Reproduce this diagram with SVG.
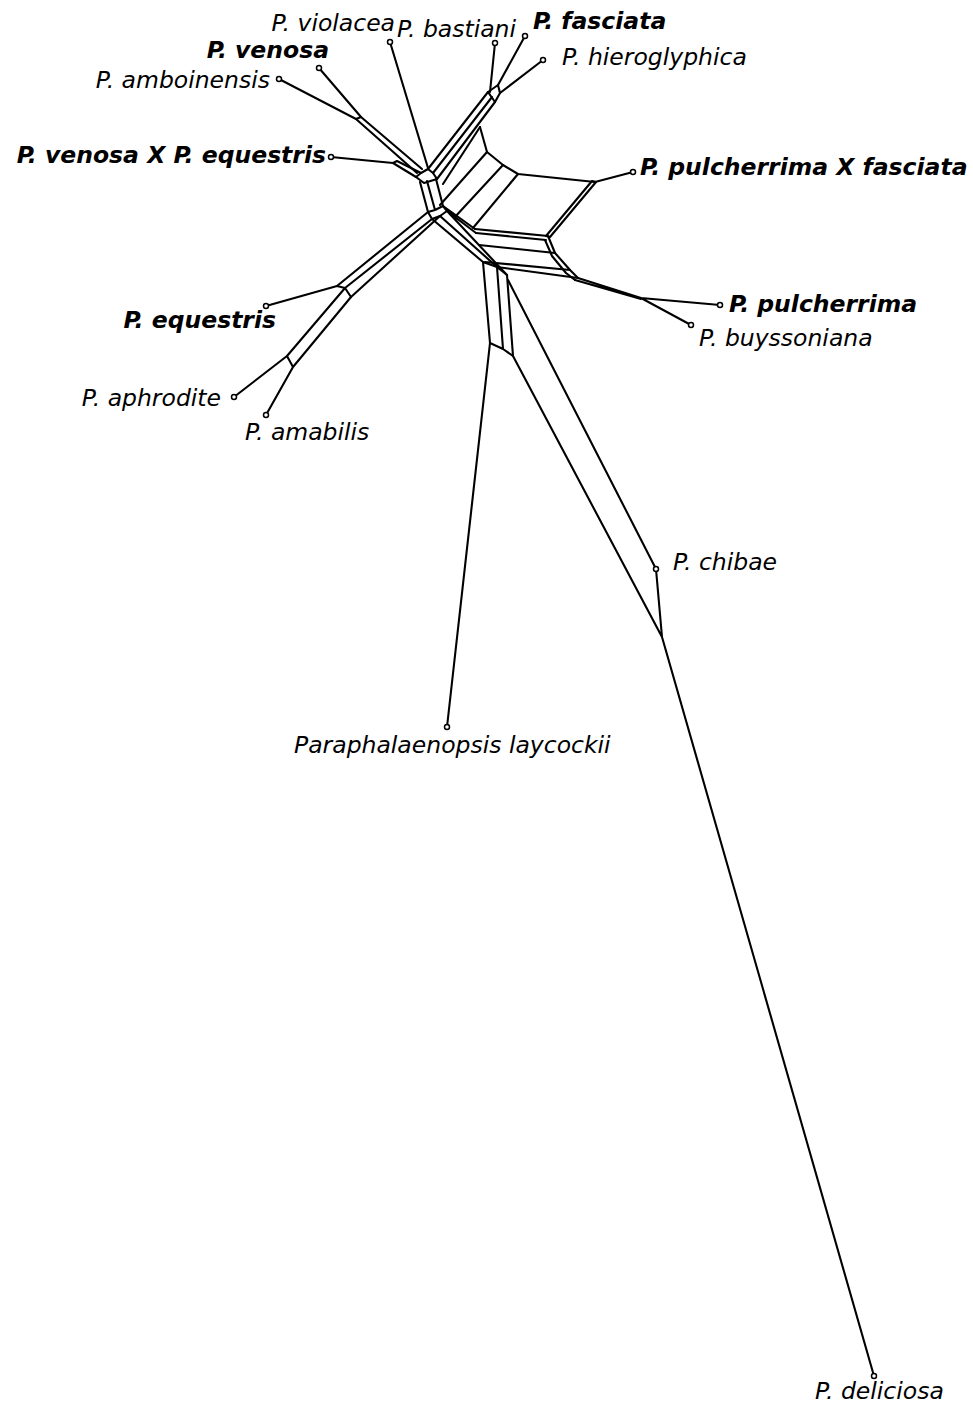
<svg xmlns="http://www.w3.org/2000/svg" width="973" height="1405" viewBox="0 0 973 1405">
<style>
.e{stroke:#000;stroke-width:2.1;fill:none;stroke-linecap:round;stroke-linejoin:round}
.d{fill:#fff;stroke:#000;stroke-width:1.5}
text{font-family:"DejaVu Sans","Liberation Sans",sans-serif;font-size:23.5px;font-style:italic;fill:#000}
.b{font-weight:bold}
</style>
<rect width="973" height="1405" fill="#fff"/>
<g id="connectors" class="e">
<path d="M390,42 L428,168"/>
<path d="M319,68 L361,117 M279,79 L356,119 M356,119 L361,117"/>
<path d="M356,119 L417,173 M361,117 L422,169"/>
<path d="M331,157 L393,163 M393,163 L416,177 M397,161 L421,173 M393,163 L397,161"/>
<path d="M416,177 L421,173 L428,169 L433,173 L437,179 L424,183 Z"/>
<path d="M420,182 L428,212 M427,181 L435,210 M436,179 L443,206 M428,212 L435,210 L443,206"/>
<path d="M428,212 L432,219 L440,216 L447,211 L443,206"/>
<path d="M428,169 L488,92 M433,173 L492,97 M437,179 L495,102 M443,184 L480,127"/>
<path d="M488,92 L498,85 L500,93 L495,102 L488,92"/>
<path d="M495,43 L490,92 M525,36 L498,85 M543,60 L500,93"/>
<path d="M480,127 L487,152 L503,165 L518,174 L595,182 L633,172"/>
<path d="M596,182 L550,237 M592,181 L546,236 M596,182 L592,181 M550,237 L546,236"/>
<path d="M440,205 L487,152 M454,218 L503,165 M473,228 L518,174"/>
<path d="M475,229 L548,236 M476,233 L546,240 M479,245 L555,253 M485,262 L570,270 M497,267 L578,278"/>
<path d="M548,236 L555,253 L570,270 L578,278 M545,240 L552,256 L566,273 L575,280"/>
<path d="M578,278 L641,298 M575,280 L641,299 M641,298 L720,305 M641,298 L691,325"/>
<path d="M432,219 L483,262 M440,216 L497,267 M447,211 L507,275 M443,206 L475,229 M447,211 L476,233"/>
<path d="M483,262 L490,343 M497,267 L503,349 M507,275 L513,356 M490,343 L503,349 L513,356 M483,262 L497,267 L507,275"/>
<path d="M508,280 L656,569 M513,356 L662,637 M656,569 L662,637 L874,1376 M490,343 L447,727"/>
<path d="M428,212 L337,286 M432,219 L345,288 M440,216 L351,297"/>
<path d="M266,306 L337,286 L345,288 L351,297"/>
<path d="M345,288 L287,356 M351,297 L293,367 M287,356 L293,367 M234,397 L287,356 M266,415 L293,367"/>
</g>
<g id="n-violacea"><circle class="d" cx="390" cy="42" r="2.5"/><text x="395" y="31" text-anchor="end">P. violacea</text></g>
<g id="n-bastiani"><circle class="d" cx="495" cy="43" r="2.5"/><text x="397" y="37">P. bastiani</text></g>
<g id="n-fasciata"><circle class="d" cx="525" cy="36" r="2.5"/><text class="b" x="533" y="29">P. fasciata</text></g>
<g id="n-hieroglyphica"><circle class="d" cx="543" cy="60" r="2.5"/><text x="562" y="65">P. hieroglyphica</text></g>
<g id="n-venosa"><circle class="d" cx="319" cy="68" r="2.5"/><text class="b" x="329" y="58" text-anchor="end">P. venosa</text></g>
<g id="n-amboinensis"><circle class="d" cx="279" cy="79" r="2.5"/><text x="270" y="88" text-anchor="end">P. amboinensis</text></g>
<g id="n-venosa-x-equestris"><circle class="d" cx="331" cy="157" r="2.5"/><text class="b" x="326" y="163" text-anchor="end">P. venosa X P. equestris</text></g>
<g id="n-pulcherrima-x-fasciata"><circle class="d" cx="633" cy="172" r="2.5"/><text class="b" x="640" y="175">P. pulcherrima X fasciata</text></g>
<g id="n-pulcherrima"><circle class="d" cx="720" cy="305" r="2.5"/><text class="b" x="729" y="312">P. pulcherrima</text></g>
<g id="n-buyssoniana"><circle class="d" cx="691" cy="325" r="2.5"/><text x="699" y="346">P. buyssoniana</text></g>
<g id="n-equestris"><circle class="d" cx="266" cy="306" r="2.5"/><text class="b" x="276" y="328" text-anchor="end">P. equestris</text></g>
<g id="n-aphrodite"><circle class="d" cx="234" cy="397" r="2.5"/><text x="221" y="406" text-anchor="end">P. aphrodite</text></g>
<g id="n-amabilis"><circle class="d" cx="266" cy="415" r="2.5"/><text x="245" y="440">P. amabilis</text></g>
<g id="n-chibae"><circle class="d" cx="656" cy="569" r="2.5"/><text x="673" y="570">P. chibae</text></g>
<g id="n-laycockii"><circle class="d" cx="447" cy="727" r="2.5"/><text x="294" y="753">Paraphalaenopsis laycockii</text></g>
<g id="n-deliciosa"><circle class="d" cx="874" cy="1376" r="2.5"/><text x="815" y="1399">P. deliciosa</text></g>
</svg>
